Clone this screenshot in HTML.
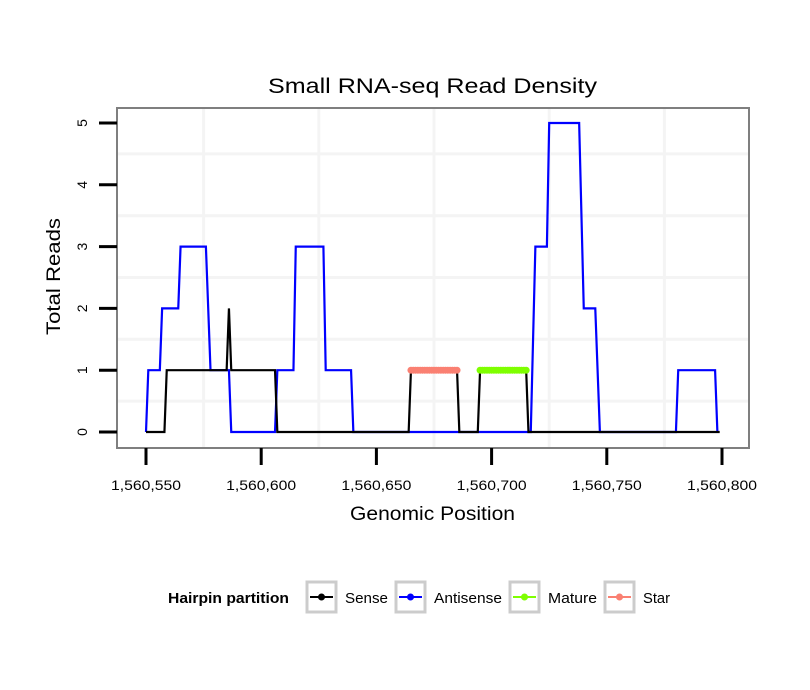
<!DOCTYPE html>
<html><head><meta charset="utf-8">
<style>
body{margin:0;background:#fff;}
svg{display:block;font-family:"Liberation Sans",Arial,sans-serif;}
</style></head>
<body>
<svg id="chart" width="810" height="690" viewBox="0 0 810 690">
  <text x="268" y="93" font-size="21" textLength="329" lengthAdjust="spacingAndGlyphs">Small RNA-seq Read Density</text>
  <rect x="117" y="108" width="632" height="340" fill="#fff"/>
  <g id="grid"></g>
  <g id="series"></g>
  <rect x="117" y="108" width="632" height="340" fill="none" stroke="#7f7f7f" stroke-width="2"/>
  <g id="axes"></g>
  <text x="350" y="520" font-size="19" textLength="165" lengthAdjust="spacingAndGlyphs">Genomic Position</text>
  <text transform="translate(60,335) rotate(-90)" font-size="19" textLength="117" lengthAdjust="spacingAndGlyphs">Total Reads</text>
  <g>
    <text x="168" y="603" font-size="15" font-weight="bold" textLength="121" lengthAdjust="spacingAndGlyphs">Hairpin partition</text>
    <g>
      <rect x="307" y="582" width="29" height="30" fill="#fff" stroke="#cccccc" stroke-width="3"/>
      <line x1="310" y1="597" x2="333" y2="597" stroke="#000" stroke-width="2"/><circle cx="321.5" cy="597" r="3.5" fill="#000"/>
      <text x="345" y="603" font-size="15" textLength="43" lengthAdjust="spacingAndGlyphs">Sense</text>
    </g>
    <g>
      <rect x="396" y="582" width="29" height="30" fill="#fff" stroke="#cccccc" stroke-width="3"/>
      <line x1="399" y1="597" x2="422" y2="597" stroke="#0000ff" stroke-width="2"/><circle cx="410.5" cy="597" r="3.5" fill="#0000ff"/>
      <text x="434" y="603" font-size="15" textLength="68" lengthAdjust="spacingAndGlyphs">Antisense</text>
    </g>
    <g>
      <rect x="510" y="582" width="29" height="30" fill="#fff" stroke="#cccccc" stroke-width="3"/>
      <line x1="513" y1="597" x2="536" y2="597" stroke="#7fff00" stroke-width="2"/><circle cx="524.5" cy="597" r="3.5" fill="#7fff00"/>
      <text x="548" y="603" font-size="15" textLength="49" lengthAdjust="spacingAndGlyphs">Mature</text>
    </g>
    <g>
      <rect x="605" y="582" width="29" height="30" fill="#fff" stroke="#cccccc" stroke-width="3"/>
      <line x1="608" y1="597" x2="631" y2="597" stroke="#fa8072" stroke-width="2"/><circle cx="619.5" cy="597" r="3.5" fill="#fa8072"/>
      <text x="643" y="603" font-size="15" textLength="27" lengthAdjust="spacingAndGlyphs">Star</text>
    </g>
  </g>
</svg>
<script>
const xTicks = [1560550, 1560600, 1560650, 1560700, 1560750, 1560800];
const xTickLabels = ["1,560,550", "1,560,600", "1,560,650", "1,560,700", "1,560,750", "1,560,800"];
const yTicks = [0, 1, 2, 3, 4, 5];
const yTickLabels = ["0", "1", "2", "3", "4", "5"];
const xGrid = [1560575, 1560625, 1560675, 1560725, 1560775];
const yGrid = [0.5, 1.5, 2.5, 3.5, 4.5];
const antisensePos = [1560550,1560551,1560556,1560557,1560564,1560565,1560576,1560578,1560586,1560587,1560606,1560607,1560614,1560615,1560627,1560628,1560639,1560640,1560717,1560719,1560724,1560725,1560738,1560740,1560745,1560747,1560780,1560781,1560797,1560798];
const antisenseVal = [0,1,1,2,2,3,3,1,1,0,0,1,1,3,3,1,1,0,0,3,3,5,5,2,2,0,0,1,1,0];
const sensePos = [1560550,1560558,1560559,1560585,1560586,1560587,1560606,1560607,1560664,1560665,1560685,1560686,1560694,1560695,1560715,1560716,1560799];
const senseVal = [0,0,1,1,2,1,1,0,0,1,1,0,0,1,1,0,0];
const starPos = [1560665,1560666,1560667,1560668,1560669,1560670,1560671,1560672,1560673,1560674,1560675,1560676,1560677,1560678,1560679,1560680,1560681,1560682,1560683,1560684,1560685];
const starVal = [1,1,1,1,1,1,1,1,1,1,1,1,1,1,1,1,1,1,1,1,1];
const maturePos = [1560695,1560696,1560697,1560698,1560699,1560700,1560701,1560702,1560703,1560704,1560705,1560706,1560707,1560708,1560709,1560710,1560711,1560712,1560713,1560714,1560715];
const matureVal = [1,1,1,1,1,1,1,1,1,1,1,1,1,1,1,1,1,1,1,1,1];

const NS = "http://www.w3.org/2000/svg";
function xs(v){ return 146 + (v - 1560550) * 576 / 250; }
function ys(v){ return 432 - v * 61.8; }
function mk(tag, attrs, parent){ const e = document.createElementNS(NS, tag); for (const k in attrs) e.setAttribute(k, attrs[k]); parent.appendChild(e); return e; }

const grid = document.getElementById('grid');
xGrid.forEach(v => {
  const l = mk('line', {x1: xs(v), x2: xs(v), y1: 109, y2: 447, stroke: '#f4f4f4', 'stroke-width': 3}, grid);
  
  
});
yGrid.forEach(v => {
  const l = mk('line', {x1: 118, x2: 748, y1: ys(v), y2: ys(v), stroke: '#f4f4f4', 'stroke-width': 3}, grid);
  
  
});

const axes = document.getElementById('axes');
xTicks.forEach((v, i) => {
  const t = mk('line', {x1: xs(v), x2: xs(v), y1: 448, y2: 465, stroke: '#000', 'stroke-width': 3}, axes);
  
  
  const tx = mk('text', {x: xs(v) - 35, y: 490, 'font-size': 14, textLength: 70, lengthAdjust: 'spacingAndGlyphs'}, axes);
  tx.textContent = xTickLabels[i];
  
  
});
yTicks.forEach((v, i) => {
  const t = mk('line', {x1: 99, x2: 117, y1: ys(v), y2: ys(v), stroke: '#000', 'stroke-width': 3}, axes);
  
  
  const tx = mk('text', {transform: 'translate(87,' + ys(v) + ') rotate(-90)', 'font-size': 14, 'text-anchor': 'middle'}, axes);
  tx.textContent = yTickLabels[i];
  
  
});

const series = document.getElementById('series');
function drawLine(pos, val, color, name, markers){
  const pts = pos.map((p, i) => xs(p) + ',' + ys(val[i])).join(' ');
  const pl = mk('polyline', {points: pts, fill: 'none', stroke: color, 'stroke-width': 2.2, 'stroke-linejoin': 'miter'}, series);
  
  
  if (markers) {
    pos.forEach((p, i) => {
      const c = mk('circle', {cx: xs(p), cy: ys(val[i]), r: 3.5, fill: color}, series);
      
      
    });
  }
}
drawLine(antisensePos, antisenseVal, '#0000ff', 'antisense', false);
drawLine(sensePos, senseVal, '#000000', 'sense', false);
drawLine(starPos, starVal, '#fa8072', 'star', true);
drawLine(maturePos, matureVal, '#7fff00', 'mature', true);
</script>
</body></html>
